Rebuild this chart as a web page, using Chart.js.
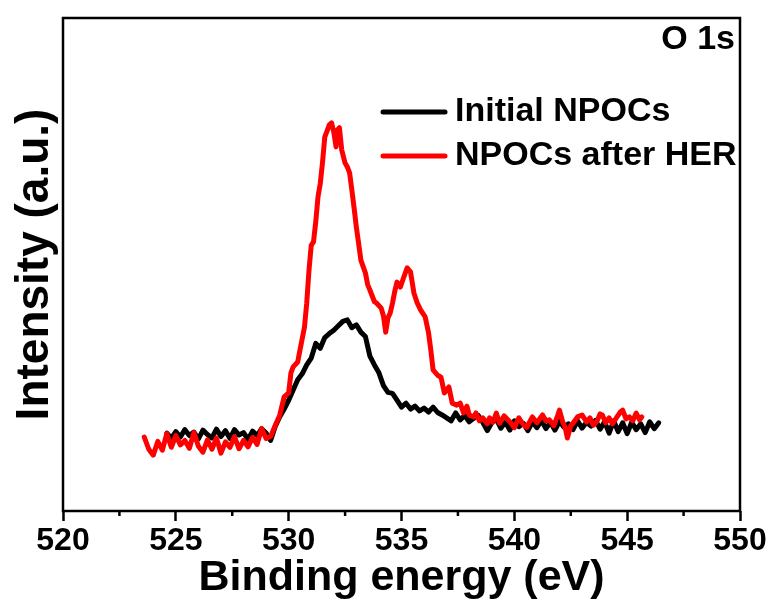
<!DOCTYPE html>
<html>
<head>
<meta charset="utf-8">
<script src="https://cdn.jsdelivr.net/npm/chart.js@4.4.1/dist/chart.umd.min.js"></script>
<style>
html,body{margin:0;padding:0;background:#fff;}
#wrap{width:774px;height:606px;}
</style>
</head>
<body>
<div id="wrap"><canvas id="c" width="774" height="606"></canvas></div>
<script>
// ---- Data ----
const seriesLabels = ['Initial NPOCs', 'NPOCs after HER'];
const seriesColors = ['#000000', '#ff0000'];
const panelLabel = 'O 1s';
const xTitle = 'Binding energy (eV)';
const yTitle = 'Intensity (a.u.)';
const xTickValues = [520, 525, 530, 535, 540, 545, 550];
const xMinorTickValues = [522.5, 527.5, 532.5, 537.5, 542.5, 547.5];

const energyInitial = [
  524.6,524.8,525.0,525.2,525.4,525.6,525.8,526.0,526.2,526.4,
  526.6,526.8,527.0,527.2,527.4,527.6,527.8,528.0,528.2,528.4,
  528.6,528.8,529.0,529.2,529.4,529.6,529.8,530.0,530.2,530.4,
  530.6,530.8,531.0,531.2,531.4,531.6,531.8,532.0,532.2,532.4,
  532.6,532.8,533.0,533.2,533.4,533.6,533.8,534.0,534.2,534.4,
  534.6,534.8,535.0,535.2,535.4,535.6,535.8,536.0,536.2,536.4,
  536.6,536.8,537.0,537.2,537.4,537.6,537.8,538.0,538.2,538.4,
  538.6,538.8,539.0,539.2,539.4,539.6,539.8,540.0,540.2,540.4,
  540.6,540.8,541.0,541.2,541.4,541.6,541.8,542.0,542.2,542.4,
  542.6,542.8,543.0,543.2,543.4,543.6,543.8,544.0,544.2,544.4,
  544.6,544.8,545.0,545.2,545.4,545.6,545.8,546.0,546.2,546.4
];
const intensityInitial = [
  15.3,14.2,15.6,14.5,16.0,14.8,15.5,14.1,15.9,15.0,
  14.3,16.1,14.6,15.8,14.2,16.0,14.9,15.4,14.0,15.7,
  14.8,16.2,15.3,13.8,16.6,18.6,20.2,22.0,24.1,26.2,
  27.4,29.2,30.6,33.6,32.6,34.8,35.6,36.3,37.2,38.1,
  38.4,36.8,37.4,35.9,35.0,31.0,29.2,27.6,25.0,23.6,
  23.4,22.0,20.6,21.4,20.2,20.8,19.8,20.4,19.6,20.6,
  19.5,19.0,18.4,17.8,19.4,18.0,18.9,17.6,18.3,18.9,
  17.5,15.8,17.4,18.2,16.3,17.6,15.9,17.8,16.6,17.3,
  15.8,17.6,16.4,17.9,16.2,17.5,15.9,17.7,16.5,17.2,
  16.0,17.8,16.3,17.5,16.7,17.9,16.1,17.6,15.3,17.8,
  15.6,17.4,15.2,17.5,16.0,17.2,15.4,17.6,16.2,17.4
];

const energyAfter = [
  523.6,523.8,524.0,524.2,524.4,524.6,524.8,525.0,525.2,525.4,
  525.6,525.8,526.0,526.2,526.4,526.6,526.8,527.0,527.2,527.4,
  527.6,527.8,528.0,528.2,528.4,528.6,528.8,529.0,529.2,529.4,
  529.6,529.8,530.0,530.1,530.2,530.4,530.5,530.7,530.8,530.9,
  531.0,531.1,531.2,531.3,531.4,531.5,531.6,531.7,531.8,531.9,
  532.0,532.1,532.15,532.25,532.35,532.5,532.6,532.7,532.8,532.9,
  533.0,533.1,533.2,533.4,533.5,533.6,533.8,533.9,534.1,534.2,
  534.3,534.4,534.5,534.6,534.7,534.8,534.95,535.1,535.25,535.4,
  535.55,535.7,535.85,536.05,536.2,536.3,536.4,536.6,536.75,536.9,
  537.1,537.25,537.45,537.6,537.75,537.9,538.0,538.2,538.3,538.45,
  538.6,538.8,538.9,539.05,539.2,539.35,539.55,539.8,540.0,540.2,
  540.4,540.55,540.8,541.0,541.25,541.4,541.55,541.75,541.9,542.0,
  542.15,542.25,542.35,542.5,542.6,542.8,543.0,543.2,543.35,543.5,
  543.65,543.8,543.9,544.05,544.2,544.35,544.55,544.7,544.8,544.95,
  545.1,545.25,545.4,545.55,545.65
];
const intensityAfter = [
  14.5,12.0,10.8,13.6,11.8,15.2,12.4,14.8,12.9,13.8,
  12.2,15.4,12.6,11.4,13.9,12.0,14.3,11.2,13.5,12.4,
  14.6,12.1,13.8,12.5,14.4,13.0,16.2,14.2,14.6,16.8,
  18.9,22.7,23.5,27.6,28.8,29.8,32.2,36.9,41.8,48.5,
  53.6,54.3,58.4,63.5,66.2,70.5,75.7,76.9,78.2,78.6,
  76.7,73.7,77.1,77.6,73.1,70.4,69.6,68.4,64.9,61.2,
  57.3,54.0,50.6,48.0,45.6,44.5,42.1,41.8,40.8,39.2,
  35.9,38.8,39.8,41.8,44.2,46.1,45.1,47.1,49.0,48.2,
  43.9,41.8,40.4,39.0,35.7,32.2,28.2,27.1,26.7,23.5,
  24.7,21.4,21.0,21.4,19.4,20.8,19.0,18.6,19.4,17.8,
  18.4,17.2,18.4,17.5,19.4,17.3,18.8,17.6,16.4,18.4,
  17.0,16.5,18.6,17.4,19.0,17.8,18.0,16.8,18.6,20.0,
  17.5,16.5,14.3,16.8,17.3,18.6,19.0,17.6,18.4,16.9,
  17.6,19.2,19.0,17.4,18.4,17.2,18.6,19.6,20.0,18.2,
  18.6,17.8,19.4,18.0,18.6
];

// ---- Build chart ----
const FONT = '"Liberation Sans", Arial, Helvetica, sans-serif';
const toPoints = (xs, ys) => xs.map((x, i) => ({x: x, y: ys[i]}));

const framePlugin = {
  id: 'framePlugin',
  afterDraw(chart) {
    const {ctx, chartArea: a} = chart;
    const xs = chart.scales.x;
    ctx.save();
    // frame
    ctx.strokeStyle = '#000';
    ctx.lineWidth = 2.5;
    ctx.strokeRect(a.left, a.top, a.right - a.left, a.bottom - a.top);
    // minor ticks
    ctx.lineWidth = 2.5;
    xMinorTickValues.forEach(v => {
      const px = xs.getPixelForValue(v);
      ctx.beginPath();
      ctx.moveTo(px, a.bottom);
      ctx.lineTo(px, a.bottom + 5);
      ctx.stroke();
    });
    // legend
    const lx0 = 383, lx1 = 445, tx = 455;
    const rows = [a.top + 94, a.top + 138];
    ctx.font = 'bold 34px ' + FONT;
    ctx.textBaseline = 'middle';
    ctx.textAlign = 'left';
    seriesLabels.forEach((lab, i) => {
      ctx.strokeStyle = seriesColors[i];
      ctx.lineWidth = 5;
      ctx.lineCap = 'round';
      ctx.beginPath();
      ctx.moveTo(lx0, rows[i]);
      ctx.lineTo(lx1, rows[i]);
      ctx.stroke();
      ctx.fillStyle = '#000';
      ctx.fillText(lab, tx, rows[i]);
    });
    // panel label
    ctx.textAlign = 'right';
    ctx.fillText(panelLabel, a.right - 5, a.top + 22);
    ctx.restore();
  }
};

new Chart(document.getElementById('c'), {
  type: 'line',
  data: {
    datasets: [
      {
        label: seriesLabels[0],
        data: toPoints(energyInitial, intensityInitial),
        borderColor: seriesColors[0],
        borderWidth: 5,
        pointRadius: 0,
        tension: 0,
        borderJoinStyle: 'round',
        borderCapStyle: 'round',
        order: 1
      },
      {
        label: seriesLabels[1],
        data: toPoints(energyAfter, intensityAfter),
        borderColor: seriesColors[1],
        borderWidth: 5,
        pointRadius: 0,
        tension: 0,
        borderJoinStyle: 'round',
        borderCapStyle: 'round',
        order: 0
      }
    ]
  },
  options: {
    responsive: false,
    animation: false,
    devicePixelRatio: 1,
    layout: {padding: {top: 18, right: 34, left: 0, bottom: 0}},
    plugins: {legend: {display: false}, tooltip: {enabled: false}},
    scales: {
      x: {
        type: 'linear',
        min: 520, max: 550,
        afterBuildTicks: s => { s.ticks = xTickValues.map(v => ({value: v})); },
        afterFit: s => { s.height = 95; },
        ticks: {
          color: '#000',
          font: {family: FONT, weight: 'bold', size: 32},
          padding: 1,
          maxRotation: 0
        },
        grid: {
          display: true,
          drawOnChartArea: false,
          drawTicks: true,
          tickLength: 10,
          tickWidth: 2.5,
          tickColor: '#000'
        },
        border: {display: false},
        title: {
          display: true,
          text: xTitle,
          color: '#000',
          font: {family: FONT, weight: 'bold', size: 43},
          padding: {top: 0, bottom: 2}
        }
      },
      y: {
        type: 'linear',
        min: -0.6, max: 100,
        afterFit: s => { s.width = 63; },
        ticks: {display: false},
        grid: {display: false},
        border: {display: false},
        title: {
          display: true,
          text: yTitle,
          color: '#000',
          font: {family: FONT, weight: 'bold', size: 46},
          padding: {top: 8, bottom: 0}
        }
      }
    }
  },
  plugins: [framePlugin]
});
</script>
</body>
</html>
